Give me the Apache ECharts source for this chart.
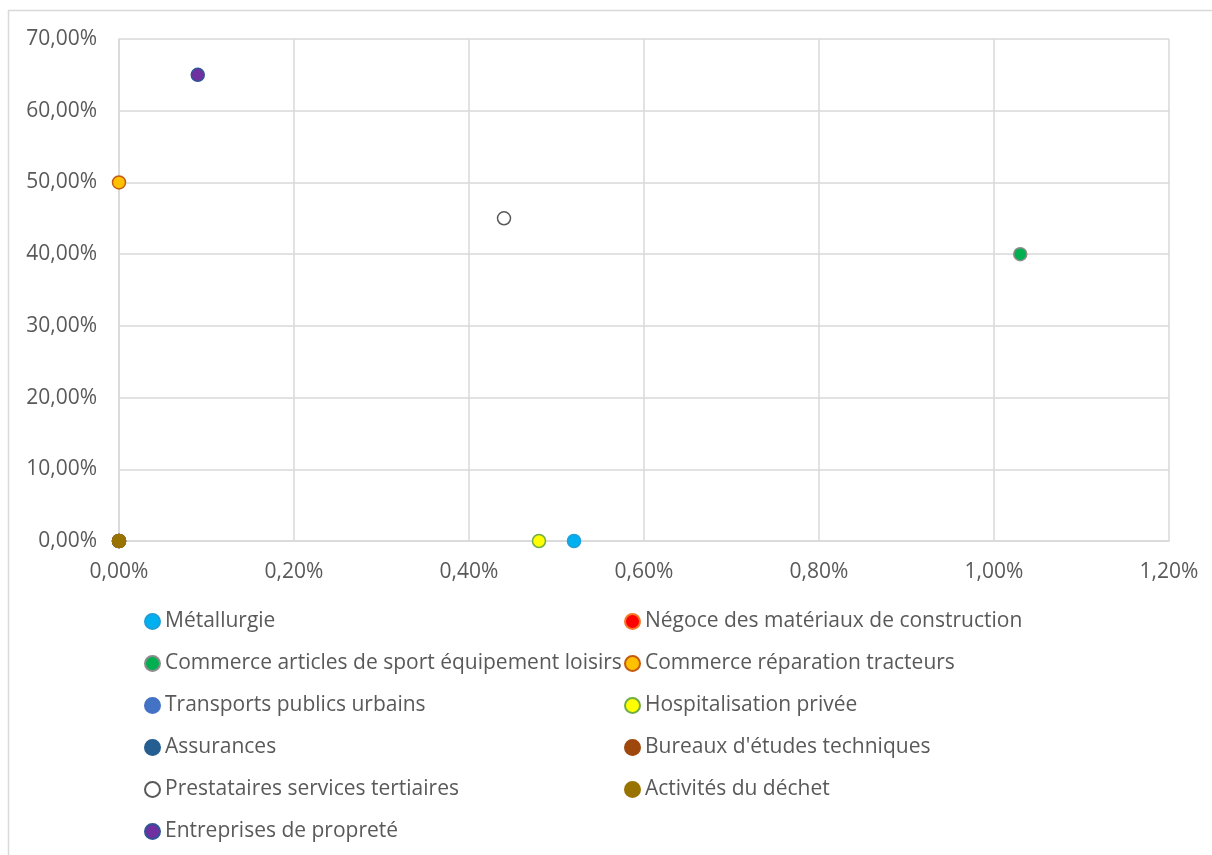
<!DOCTYPE html>
<html>
<head>
<meta charset="utf-8">
<script src="https://cdn.jsdelivr.net/npm/echarts@6/dist/echarts.min.js"></script>
<style>
  html, body { margin: 0; padding: 0; background: #fff; }
  #chart { width: 1212px; height: 855px; }
</style>
</head>
<body>
<div id="chart"></div>
<script>
// Sector names, in series order
const sectors = [
  "Métallurgie",
  "Négoce des matériaux de construction",
  "Commerce articles de sport équipement loisirs",
  "Commerce réparation tracteurs",
  "Transports publics urbains",
  "Hospitalisation privée",
  "Assurances",
  "Bureaux d'études techniques",
  "Prestataires services tertiaires",
  "Activités du déchet",
  "Entreprises de propreté"
];
// Horizontal value (%) for each sector
const xValues = [0.52, 0, 1.03, 0, 0, 0.48, 0, 0, 0.44, 0, 0.09];
// Vertical value (%) for each sector
const yValues = [0, 0, 40, 50, 0, 0, 0, 0, 45, 0, 65];

// Axis ranges (%)
const xMax = 1.2, xStep = 0.2;
const yMax = 70, yStep = 10;

// Marker fill and outline per sector
const fills = ["#00B0F0", "#FF0000", "#00B050", "#FFC000", "#4472C4", "#FFFF00",
               "#255E91", "#9E480E", "#FFFFFF", "#997300", "#7030A0"];
const strokes = ["#1F9FD8", "#F4782B", "#8C8C8C", "#C55A11", "#4472C4", "#70AD47",
                 "#255E91", "#9E480E", "#595959", "#997300", "#2F5597"];

const textColor = "#595959";
const gridColor = "#D9D9D9";
const fontFamily = "'Open Sans', 'Noto Sans', sans-serif";
const fontSize = 21;

function pct(v) {
  return v.toFixed(2).replace(".", ",") + "%";
}

const series = sectors.map((name, i) => ({
  name: name,
  type: "scatter",
  symbol: "circle",
  symbolSize: 13,
  itemStyle: {
    color: fills[i],
    borderColor: strokes[i],
    borderWidth: 1.5,
    opacity: 1
  },
  emphasis: { disabled: true },
  data: [[xValues[i], yValues[i]]]
}));

const leftItems = sectors.filter((_, i) => i % 2 === 0);
const rightItems = sectors.filter((_, i) => i % 2 === 1);

const legendBase = {
  orient: "vertical",
  top: 611,
  height: 260,
  padding: 0,
  icon: "circle",
  itemWidth: 15,
  itemHeight: 15,
  itemGap: 21,
  selectedMode: false,
  textStyle: {
    color: textColor,
    fontSize: fontSize,
    lineHeight: 21,
    fontFamily: fontFamily
  }
};

const chart = echarts.init(document.getElementById("chart"), null, { renderer: "canvas" });
chart.setOption({
  animation: false,
  backgroundColor: "#fff",
  graphic: [{
    type: "rect",
    shape: { x: 8.5, y: 10.5, width: 1400, height: 1000 },
    style: { fill: "none", stroke: gridColor, lineWidth: 1.5 },
    silent: true,
    z: -10
  }],
  grid: { left: 119, right: 43, top: 39, bottom: 314, containLabel: false },
  xAxis: {
    type: "value",
    min: 0,
    max: xMax,
    interval: xStep,
    axisLine: { show: true, onZero: false, lineStyle: { color: gridColor, width: 1.5 } },
    axisTick: { show: false },
    splitLine: { show: true, lineStyle: { color: gridColor, width: 1.5 } },
    axisLabel: {
      color: textColor,
      fontSize: fontSize,
      fontFamily: fontFamily,
      margin: 21,
      formatter: pct
    }
  },
  yAxis: {
    type: "value",
    min: 0,
    max: yMax,
    interval: yStep,
    axisLine: { show: true, lineStyle: { color: gridColor, width: 1.5 } },
    axisTick: { show: false },
    splitLine: { show: true, lineStyle: { color: gridColor, width: 1.5 } },
    axisLabel: {
      color: textColor,
      fontSize: fontSize,
      fontFamily: fontFamily,
      margin: 22,
      formatter: pct
    }
  },
  legend: [
    Object.assign({}, legendBase, { left: 144, data: leftItems }),
    Object.assign({}, legendBase, { left: 624, data: rightItems })
  ],
  series: series
});
</script>
</body>
</html>
